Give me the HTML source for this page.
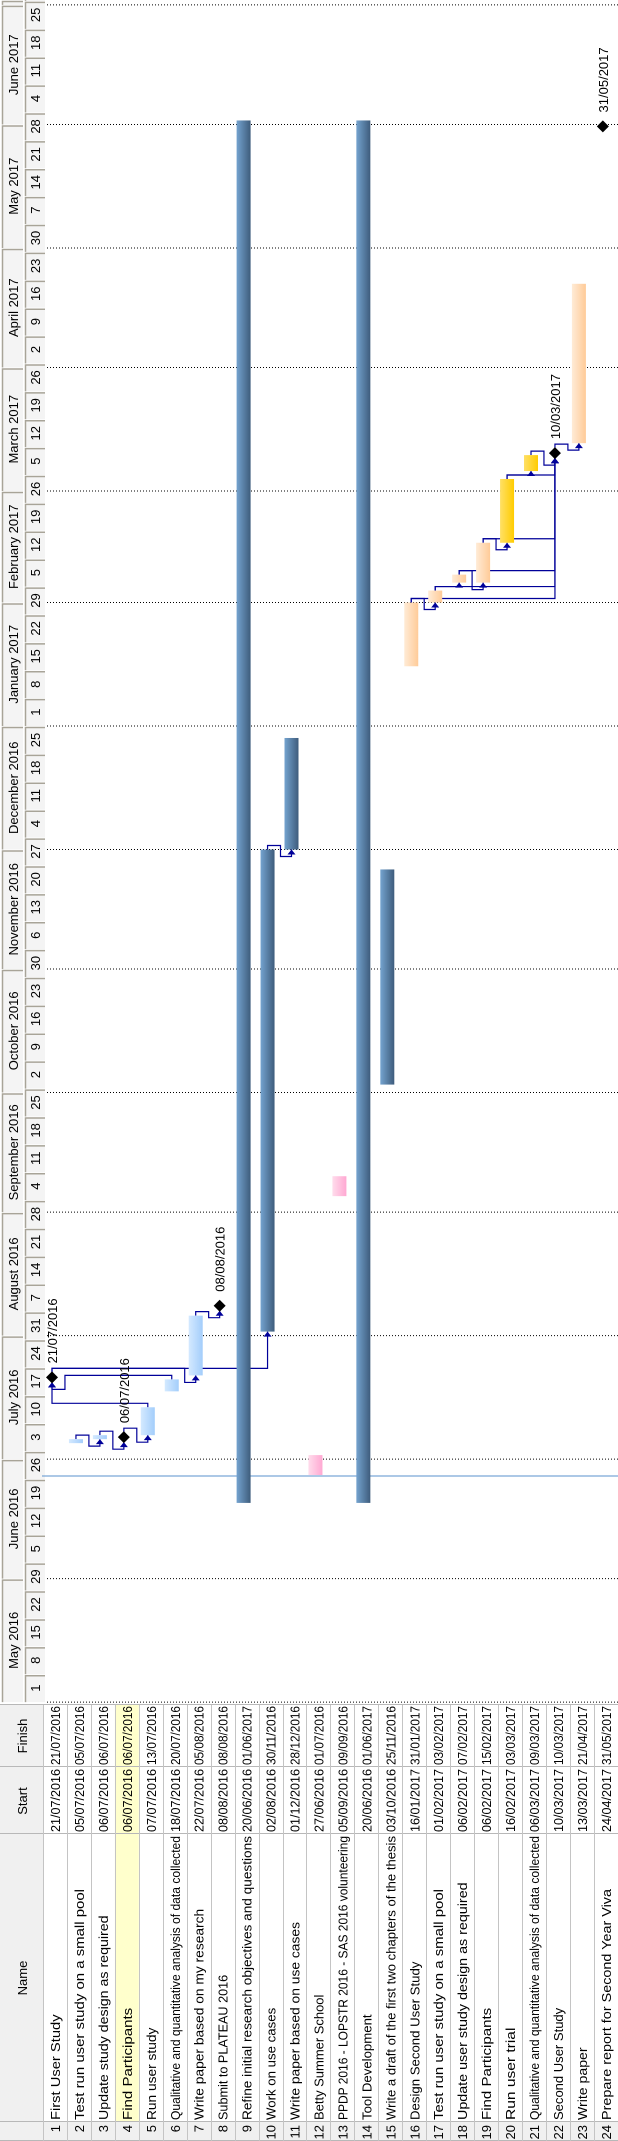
<!DOCTYPE html>
<html><head><meta charset="utf-8"><style>
html,body{margin:0;padding:0;background:#fff;}
body{width:618px;height:2141px;overflow:hidden;position:relative;}
#land{position:absolute;left:0;top:0;width:2141px;height:618px;transform-origin:0 0;transform:translate(0,2141px) rotate(-90deg);}
svg text{font-family:"Liberation Sans",Arial,sans-serif;font-size:13px;fill:#000;}
</style></head><body>
<div id="land">
<svg id="svg" width="2141" height="618" xmlns="http://www.w3.org/2000/svg">
<defs>
<linearGradient id="gSteel" x1="0" y1="0" x2="0" y2="1"><stop offset="0" stop-color="#74a3cf"/><stop offset="1" stop-color="#3e5c7c"/></linearGradient>
<linearGradient id="gLight" x1="0" y1="0" x2="0" y2="1"><stop offset="0" stop-color="#d4e9ff"/><stop offset="1" stop-color="#a3cdfb"/></linearGradient>
<linearGradient id="gPink" x1="0" y1="0" x2="0" y2="1"><stop offset="0" stop-color="#ffdcec"/><stop offset="1" stop-color="#ffa8d2"/></linearGradient>
<linearGradient id="gPeach" x1="0" y1="0" x2="0" y2="1"><stop offset="0" stop-color="#ffebd6"/><stop offset="1" stop-color="#ffcb98"/></linearGradient>
<linearGradient id="gGold" x1="0" y1="0" x2="0" y2="1"><stop offset="0" stop-color="#ffe066"/><stop offset="1" stop-color="#ffcc00"/></linearGradient>
</defs>
</svg>
</div>
<script>
const taskNames = ["First User Study","Test run user study on a small pool","Update study design as required","Find Participants","Run user study","Qualitative and quantitative analysis of data collected","Write paper based on my research","Submit to PLATEAU 2016","Refine initial research objectives and questions","Work on use cases","Write paper based on use cases","Betty Summer School","PPDP 2016 - LOPSTR 2016 - SAS 2016 volunteering","Tool Development","Write a draft of the first two chapters of the thesis","Design Second User Study","Test run user study on a small pool","Update user study design as required","Find Participants","Run user trial","Qualitative and quantitative analysis of data collected","Second User Study","Write paper","Prepare report for Second Year Viva"];
const taskStarts = ["2016-07-21","2016-07-05","2016-07-06","2016-07-06","2016-07-07","2016-07-18","2016-07-22","2016-08-08","2016-06-20","2016-08-02","2016-12-01","2016-06-27","2016-09-05","2016-06-20","2016-10-03","2017-01-16","2017-02-01","2017-02-06","2017-02-06","2017-02-16","2017-03-06","2017-03-10","2017-03-13","2017-04-24"];
const taskFinishes = ["2016-07-21","2016-07-05","2016-07-06","2016-07-06","2016-07-13","2016-07-20","2016-08-05","2016-08-08","2017-06-01","2016-11-30","2016-12-28","2016-07-01","2016-09-09","2017-06-01","2016-11-25","2017-01-31","2017-02-03","2017-02-07","2017-02-15","2017-03-03","2017-03-09","2017-03-10","2017-04-21","2017-05-31"];
const taskMilestone = [1,0,0,1,0,0,0,1,0,0,0,0,0,0,0,0,0,0,0,0,0,1,0,1];
const taskColor = ["light","light","light","light","light","light","light","light","steel","steel","steel","pink","pink","steel","steel","peach","peach","peach","peach","gold","gold","peach","peach","peach"];
const linkFrom = [2,3,4,5,6,1,7,1,10,16,17,18,19,20,21,22,16,17,18,19,20];
const linkTo   = [3,4,5,1,1,7,8,10,11,17,18,19,20,21,22,23,22,22,22,22,22];
const monthNames = ["January","February","March","April","May","June","July","August","September","October","November","December"];

const NS="http://www.w3.org/2000/svg";
const svg=document.getElementById('svg');
function mk(tag,attrs){const e=document.createElementNS(NS,tag);for(const k in attrs)e.setAttribute(k,attrs[k]);svg.appendChild(e);return e;}
const DAY=3.984, ORIGIN=Date.UTC(2016,5,26), X0=662;
function days(s){const p=s.split('-');return (Date.UTC(+p[0],+p[1]-1,+p[2])-ORIGIN)/86400000;}
function xd(d){return X0+d*DAY;}
const ROW0=43, RH=23.95, TL=438;
function rowTop(i){return ROW0+i*RH;}

let e;
e=mk('rect',{x:0,y:0,width:436,height:43,fill:'#f0f0f0'});


e=mk('rect',{x:0,y:43,width:19,height:575,fill:'#f0f0f0'});


e=mk('rect',{x:19,y:rowTop(3),width:417,height:RH,fill:'#ffffcc'});


const headers=[["Name",163],["Start",340],["Finish",405]];
headers.forEach(h=>{
  const t=mk('text',{x:h[1],y:27,'text-anchor':'middle'});t.textContent=h[0];
  
  
});
[0,19,307,374,436].forEach(x=>{
  const l=mk('line',{x1:x+0.5,y1:0,x2:x+0.5,y2:618,stroke:'#b8b8b8','stroke-width':1});
  
  
});
for(let i=0;i<=24;i++){
  const y=Math.round(rowTop(i))+0.5;
  const l=mk('line',{x1:0,y1:y,x2:436,y2:y,stroke:'#c4c4c4','stroke-width':1});
  
  
}
for(let i=0;i<24;i++){
  const by=rowTop(i)+17;
  let t=mk('text',{x:16,y:by,'text-anchor':'end'});t.textContent=String(i+1);
  
  
  t=mk('text',{x:21,y:by,textLength:Math.min(284,taskNames[i].length*6.6),lengthAdjust:'spacingAndGlyphs'});t.textContent=taskNames[i];
  
  
  const fmt=s=>{const p=s.split('-');return p[2]+'/'+p[1]+'/'+p[0];};
  t=mk('text',{x:309,y:by,textLength:63,lengthAdjust:'spacingAndGlyphs'});t.textContent=fmt(taskStarts[i]);
  
  
  t=mk('text',{x:376,y:by,textLength:59,lengthAdjust:'spacingAndGlyphs'});t.textContent=fmt(taskFinishes[i]);
  
  
}

const start=Date.UTC(2016,4,1);
for(let y=2016,m=4;;){
  const ms=Date.UTC(y,m,1), me=Date.UTC(y,m+1,1);
  const x1=xd((ms-ORIGIN)/86400000), x2=xd((me-ORIGIN)/86400000);
  if(x1>2141)break;
  const a=Math.max(x1,TL), b=Math.min(x2,2141);
  let r=mk('rect',{x:a,y:2,width:b-a-1,height:21,fill:'#f4f4f4'});
  
  
  let l=mk('path',{d:`M${a},2.5 H${b-1.5} V23`,stroke:'#a8a498',fill:'none','stroke-width':1.5});
  
  
  const t=mk('text',{x:(x1+x2)/2,y:18,'text-anchor':'middle'});t.textContent=monthNames[m]+' '+y;
  
  
  if(x1>TL){
    const d=mk('line',{x1:x1,y1:47,x2:x1,y2:618,stroke:'#000','stroke-width':1,'stroke-dasharray':'1,2'});
    
    
  }
  m++; if(m>11){m=0;y++;}
}
for(let w=start;;w+=7*86400000){
  const x1=xd((w-ORIGIN)/86400000), x2=x1+7*DAY;
  if(x1>2141)break;
  let r=mk('rect',{x:x1,y:25,width:x2-x1-1,height:20,fill:'#f4f4f4'});
  
  
  let l=mk('path',{d:`M${x1},25.5 H${x2-1.5} V45`,stroke:'#a8a498',fill:'none','stroke-width':1.5});
  
  
  const t=mk('text',{x:(x1+x2)/2,y:40,'text-anchor':'middle'});t.textContent=String(new Date(w).getUTCDate());
  
  
}
e=mk('line',{x1:665,y1:42,x2:665,y2:618,stroke:'#7aa7d8','stroke-width':1.2});



const fills={light:'url(#gLight)',steel:'url(#gSteel)',pink:'url(#gPink)',peach:'url(#gPeach)',gold:'url(#gGold)'};
function endX(i){return taskMilestone[i]?xd(days(taskFinishes[i])+0.5):xd(days(taskFinishes[i])+1);}
function startX(i){return taskMilestone[i]?xd(days(taskStarts[i])+0.5)-5:xd(days(taskStarts[i]));}
function cy(i){return rowTop(i)+9;}
for(let k=0;k<linkFrom.length;k++){
  const a=linkFrom[k]-1,b=linkTo[k]-1;
  const ex=endX(a)+(taskMilestone[a]?5:0), py=cy(a), sx=startX(b), sy=cy(b);
  let d;
  if(sx>=ex+6){d=`M${ex},${py} H${ex+4} V${sy} H${sx}`;}
  else{const mid=b>a?rowTop(b)-2:rowTop(b)+RH-2;d=`M${ex},${py} H${ex+4} V${mid} H${sx-7} V${sy} H${sx}`;}
  const p=mk('path',{d:d,stroke:'#000099',fill:'none','stroke-width':1.2});
  
  
  const ar=mk('polygon',{points:`${sx},${sy} ${sx-5},${sy-4} ${sx-5},${sy+4}`,fill:'#000099'});
  
  
}
for(let i=0;i<24;i++){
  const c=cy(i);
  if(taskMilestone[i]){
    const x=xd(days(taskFinishes[i])+0.5);
    const dm=mk('polygon',{points:`${x-6},${c} ${x},${c-6} ${x+6},${c} ${x},${c+6}`,fill:'#000'});
    
    
    const p=taskFinishes[i].split('-');
    const t=mk('text',{x:x+14,y:c+5});t.textContent=p[2]+'/'+p[1]+'/'+p[0];
    
    
  } else {
    const x1=xd(days(taskStarts[i])), x2=xd(days(taskFinishes[i])+1);
    const r=mk('rect',{x:x1,y:rowTop(i)+2,width:x2-x1,height:14,fill:fills[taskColor[i]]});
    
    
  }
}
</script>
</body></html>
